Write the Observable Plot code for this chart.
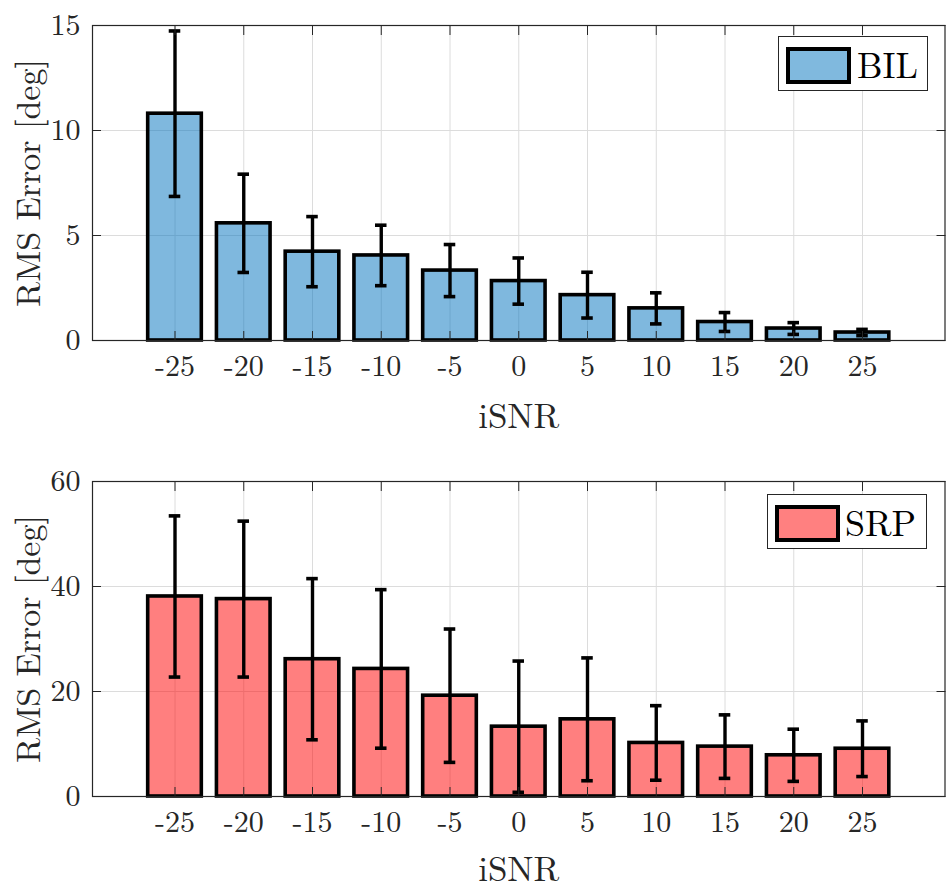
<!DOCTYPE html>
<html><head><meta charset="utf-8">
<script src="https://cdn.jsdelivr.net/npm/d3@7"></script>
<script src="https://cdn.jsdelivr.net/npm/@observablehq/plot@0.6"></script>
<style>
body{margin:0;background:#fff;}
#wrap{position:relative;width:947px;height:890px;overflow:hidden;}
.panel{position:relative;width:947px;height:445px;}
.panel svg{display:block;}
.legend{position:absolute;background:#fff;border:1px solid #262626;box-sizing:border-box;}
.legend .sw{position:absolute;box-sizing:border-box;border:4px solid #000;}
.legend .lab{position:absolute;font-family:"Latin Modern Roman","CMU Serif","DejaVu Serif","Liberation Serif","Noto Serif",FreeSerif,"Nimbus Roman",Tinos,Georgia,serif;font-size:36px;line-height:1;color:#000;white-space:nowrap;}
</style></head><body><div id="wrap"></div>
<script>
const isnr = [-25,-20,-15,-10,-5,0,5,10,15,20,25];
const bilMean = [10.8,5.58,4.23,4.05,3.33,2.83,2.16,1.53,0.88,0.57,0.38];
const bilStd = [3.94,2.34,1.67,1.44,1.24,1.10,1.09,0.74,0.45,0.28,0.15];
const srpMean = [38.1,37.6,26.15,24.3,19.2,13.3,14.7,10.2,9.5,7.85,9.1];
const srpStd = [15.35,14.85,15.35,15.1,12.7,12.5,11.7,7.1,6.05,4.97,5.3];
const xTicks = [-25,-20,-15,-10,-5,0,5,10,15,20,25];
const bilYTicks = [0,5,10,15];
const srpYTicks = [0,20,40,60];
const seriesNames = ["BIL","SRP"];
const seriesColors = ["#0072BD","#FF0000"];
const swatchColors = ["#80B9DE","#FF8080"];
const yLabel = "RMS Error [deg]";
const xLabel = "iSNR";

const FONT = "'Latin Modern Roman', 'CMU Serif', 'DejaVu Serif', 'Liberation Serif', 'Noto Serif', FreeSerif, 'Nimbus Roman', Tinos, Georgia, serif";
const AX = "#262626";

function panel(mean, std, yDomain, yTicks, mt, mb, xlabDy, color, swatch, name, leg) {
  const data = isnr.map((v, i) => ({snr: v, m: mean[i], lo: mean[i] - std[i], hi: mean[i] + std[i]}));
  const chart = Plot.plot({
    width: 947, height: 445,
    marginLeft: 92, marginRight: 2.5, marginTop: mt, marginBottom: mb,
    x: {domain: [-31, 31], label: null},
    y: {domain: yDomain, label: null},
    marks: [
      Plot.gridX({ticks: xTicks, stroke: "#dcdcdc", strokeOpacity: 1}),
      Plot.gridY({ticks: yTicks, stroke: "#dcdcdc", strokeOpacity: 1}),
      Plot.rectY(data, {x1: d => d.snr - 1.95, x2: d => d.snr + 1.95, y1: 0, y2: "m", fill: color, fillOpacity: 0.5, stroke: "#000", strokeWidth: 3.6}),
      Plot.ruleX(data, {x: "snr", y1: "lo", y2: "hi", stroke: "#000", strokeWidth: 3.4}),
      Plot.ruleY(data, {y: "lo", x1: d => d.snr - 0.42, x2: d => d.snr + 0.42, stroke: "#000", strokeWidth: 3.6}),
      Plot.ruleY(data, {y: "hi", x1: d => d.snr - 0.42, x2: d => d.snr + 0.42, stroke: "#000", strokeWidth: 3.6}),
      Plot.frame({stroke: AX, strokeWidth: 1.2}),
      Plot.axisX({ticks: xTicks, anchor: "bottom", tickSize: -9, tickFormat: () => "", stroke: AX, label: null}),
      Plot.axisX({ticks: xTicks, anchor: "top", tickSize: -9, tickFormat: () => "", stroke: AX, label: null}),
      Plot.axisY({ticks: yTicks, anchor: "left", tickSize: -9, tickFormat: () => "", stroke: AX, label: null}),
      Plot.axisY({ticks: yTicks, anchor: "right", tickSize: -9, tickFormat: () => "", stroke: AX, label: null}),
      Plot.axisX({ticks: xTicks, anchor: "bottom", tickSize: 0, tickPadding: 14, tickFormat: d => String(d), fontSize: 30, fontFamily: FONT, fill: AX, label: null}),
      Plot.axisY({ticks: yTicks, anchor: "left", tickSize: 0, tickPadding: 12, tickFormat: d => String(d), fontSize: 30, fontFamily: FONT, fill: AX, label: null}),
      Plot.text([xLabel], {frameAnchor: "bottom", dy: xlabDy, fontSize: 35, fontFamily: FONT, fill: AX, lineAnchor: "middle", textAnchor: "middle"}),
      Plot.text([yLabel], {frameAnchor: "left", dx: -63, rotate: -90, fontSize: 34, fontFamily: FONT, fill: AX, lineAnchor: "middle", textAnchor: "middle"})
    ]
  });
  const div = document.createElement("div");
  div.className = "panel";
  div.appendChild(chart);
  const lg = document.createElement("div");
  lg.className = "legend";
  Object.assign(lg.style, {left: leg.bx + "px", top: leg.by + "px", width: leg.bw + "px", height: leg.bh + "px"});
  div.appendChild(lg);
  const sw = document.createElement("div");
  sw.className = "sw";
  Object.assign(sw.style, {left: (leg.sx - leg.bx) + "px", top: (leg.sy - leg.by) + "px", width: "65px", height: "37px", background: swatch});
  lg.appendChild(sw);
  const lab = document.createElement("div");
  lab.className = "lab";
  lab.textContent = name;
  Object.assign(lab.style, {left: (leg.tx - leg.bx) + "px", top: (leg.ty - leg.by) + "px"});
  lg.appendChild(lab);
  return div;
}

const wrap = document.getElementById("wrap");
wrap.appendChild(panel(bilMean, bilStd, [0, 15], bilYTicks, 25, 105, 76, seriesColors[0], swatchColors[0], seriesNames[0],
  {bx: 778, by: 36, bw: 150, bh: 55, sx: 785, sy: 46, tx: 856, ty: 44}));
wrap.appendChild(panel(srpMean, srpStd, [0, 60], srpYTicks, 36, 94, 73, seriesColors[1], swatchColors[1], seriesNames[1],
  {bx: 767, by: 49, bw: 160, bh: 55, sx: 774, sy: 59, tx: 844, ty: 57}));
</script>
</body></html>
